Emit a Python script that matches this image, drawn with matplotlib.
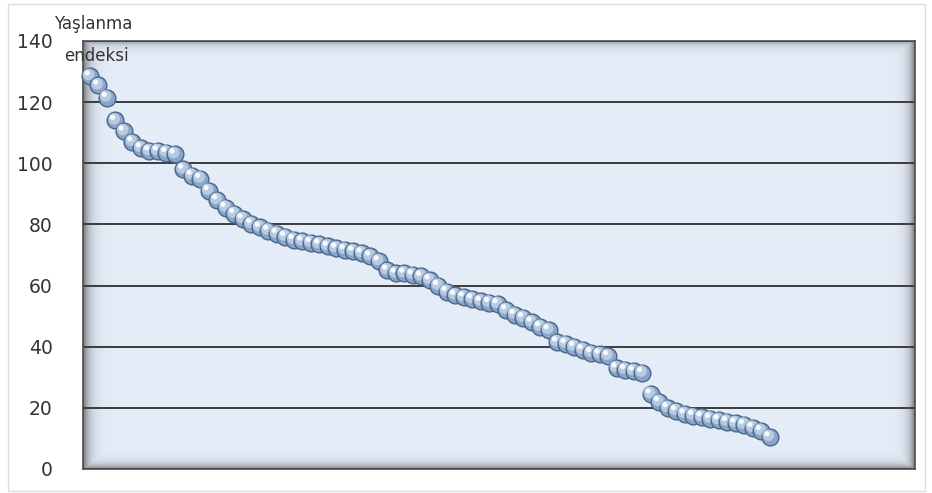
import numpy as np
import matplotlib
matplotlib.use("Agg")
import matplotlib.pyplot as plt
from matplotlib.patches import Rectangle
from matplotlib.transforms import ScaledTranslation

# ---- data ----
index_values = [
    128.5, 125.5, 121.5, 114, 110.5, 107, 105, 104, 104, 103.5,
    103, 98, 96, 95, 91, 88, 85.5, 83.5, 81.8, 80.2,
    79, 78, 77, 76, 75, 74.5, 74, 73.5, 72.8, 72.2,
    71.7, 71.2, 70.6, 69.6, 68, 65, 64, 64, 63.5, 63,
    61.8, 60, 58, 56.8, 56.2, 55.6, 54.8, 54.4, 54, 52,
    50.5, 49.5, 48, 46.5, 45.5, 41.5, 41, 40, 39, 38,
    37.5, 37, 33, 32.5, 32, 31.5, 24.5, 22, 20, 19,
    18, 17.5, 17, 16.5, 16, 15.5, 15, 14.5, 13.5, 12.5,
    10.5,
]
positions = list(range(1, len(index_values) + 1))
y_ticks = [0, 20, 40, 60, 80, 100, 120, 140]
axis_title = ["Yaşlanma", "endeksi"]

W_PX, H_PX = 932, 493
fig = plt.figure(figsize=(W_PX / 100, H_PX / 100), dpi=100)
fig.patch.set_facecolor("white")

# outer chart border
fig.add_artist(Rectangle((8 / W_PX, 2 / H_PX), (925 - 8) / W_PX, (489 - 2) / H_PX,
                         transform=fig.transFigure, fill=False,
                         edgecolor="#dcdcdc", linewidth=1.0))

left, right, top, bottom = 83, 915, 41, 469
ax = fig.add_axes([left / W_PX, 1 - bottom / H_PX,
                   (right - left) / W_PX, (bottom - top) / H_PX])
ax.set_facecolor("#e4ecf7")

ax.set_ylim(0, 140)
ax.set_xlim(0.18, 98.1)
ax.set_yticks(y_ticks)
ax.set_yticklabels([str(t) for t in y_ticks], fontsize=13.5, color="#333333")
ax.set_xticks([])
ax.tick_params(axis="y", length=0, pad=22)

ax.set_axisbelow(True)
ax.grid(axis="y", color="#3c3c3c", linewidth=1.4)
for s in ax.spines.values():
    s.set_color("#4d4d4d")
    s.set_linewidth(1.2)

# inner shadow of the plot area
Wp, Hp = right - left, bottom - top
xx, yy = np.meshgrid(np.arange(Wp) + 0.5, np.arange(Hp) + 0.5)
alpha = np.maximum.reduce([
    0.8 * np.exp(-xx / 6.0),
    0.55 * np.exp(-yy / 4.0),
    0.8 * np.exp(-(Wp - xx) / 5.0),
    0.7 * np.exp(-(Hp - yy) / 4.5),
])
shadow = np.zeros((Hp, Wp, 4))
shadow[..., 0:3] = 0.30
shadow[..., 3] = alpha
ax.imshow(shadow, extent=(0, 1, 0, 1), transform=ax.transAxes,
          aspect="auto", zorder=0.2, interpolation="bilinear")

# spherical markers, drawn point by point so later ones overlap earlier ones
hl1 = ax.transData + ScaledTranslation(-1.3 / 100, 1.6 / 100, fig.dpi_scale_trans)
hl2 = ax.transData + ScaledTranslation(-2.8 / 100, 3.2 / 100, fig.dpi_scale_trans)
z = 3
for xv, yv in zip(positions, index_values):
    ax.scatter([xv], [yv], s=145, color="#8aa5c8", edgecolors="#4a6688",
               linewidths=1.0, zorder=z, clip_on=False)
    ax.scatter([xv], [yv], s=70, color="#b7cbe4", edgecolors="none",
               zorder=z + 0.1, transform=hl1, clip_on=False)
    ax.scatter([xv], [yv], s=14, color="#f6f9fd", edgecolors="none",
               zorder=z + 0.2, transform=hl2, clip_on=False)
    z += 0.3

# axis title (top-left, overlapping the axis)
fig.text(93 / W_PX, 1 - 24 / H_PX, axis_title[0], ha="center", va="center",
         fontsize=12, color="#333333")
fig.text(96 / W_PX, 1 - 56 / H_PX, axis_title[1], ha="center", va="center",
         fontsize=12, color="#333333")

fig.savefig("out.png", dpi=100)
